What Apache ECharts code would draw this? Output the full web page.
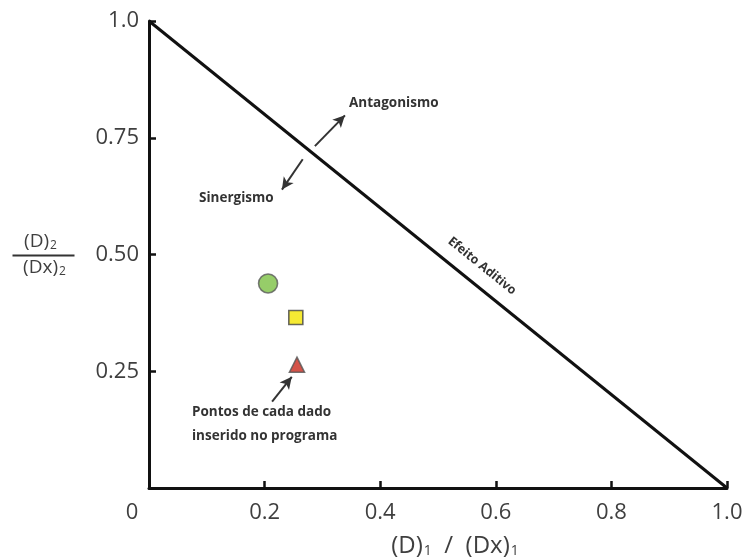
<!DOCTYPE html>
<html>
<head>
<meta charset="utf-8">
<script src="https://cdn.jsdelivr.net/npm/echarts@6/dist/echarts.min.js"></script>
<style>
    html, body { margin: 0; padding: 0; background: #fff; }
    #chart { width: 747px; height: 560px; }
</style>
</head>
<body>
<div id="chart"></div>
<script>
// tick values of both axes
var xTicks = [0, 0.2, 0.4, 0.6, 0.8, 1.0];
var yTicks = [0, 0.25, 0.5, 0.75, 1.0];
// additive effect line (isobologram)
var additiveLine = [[0, 1], [1, 0]];
// data points entered in the program
var pointNames = ['Ponto 1', 'Ponto 2', 'Ponto 3'];
var pointX = [0.206, 0.254, 0.256];
var pointY = [0.438, 0.365, 0.264];
// annotation arrows [x1, y1, x2, y2]
var arrows = [
    [0.287, 0.732, 0.339, 0.798],
    [0.266, 0.704, 0.230, 0.639],
    [0.213, 0.185, 0.247, 0.238]
];

var labelFont = '"Open Sans", "DejaVu Sans", sans-serif';
var textColor = '#3f3f3f';
var noteColor = '#333';

var pointStyles = [
    { symbol: 'circle', size: 19, color: '#7cc043', border: '#5a5a5a' },
    { symbol: 'rect', size: 14, color: '#f4e500', border: '#444' },
    { symbol: 'triangle', size: 15, color: '#c9281c', border: '#555' }
];

function buildPointSeries() {
    var list = [];
    for (var i = 0; i < pointX.length; i++) {
        var st = pointStyles[i];
        list.push({
            name: pointNames[i],
            type: 'scatter',
            symbol: st.symbol,
            symbolSize: st.size,
            itemStyle: { color: st.color, borderColor: st.border, borderWidth: 1.6 },
            data: [[pointX[i], pointY[i]]],
            z: 5
        });
    }
    return list;
}

function buildArrows() {
    var list = [];
    for (var i = 0; i < arrows.length; i++) {
        list.push([
            { coord: [arrows[i][0], arrows[i][1]] },
            { coord: [arrows[i][2], arrows[i][3]] }
        ]);
    }
    return list;
}

var subRich = {
    a: { fontSize: 24, fontFamily: labelFont, fill: textColor },
    s: { fontSize: 14, fontFamily: labelFont, fill: textColor, verticalAlign: 'bottom', padding: [11, 0, 0, 1] }
};
var fracRich = {
    a: { fontSize: 19, fontFamily: labelFont, fill: textColor },
    s: { fontSize: 12, fontFamily: labelFont, fill: textColor, verticalAlign: 'bottom', padding: [8, 0, 0, 1] }
};

var chart = echarts.init(document.getElementById('chart'));

var option = {
    animation: false,
    backgroundColor: '#fff',
    grid: {
        left: 149,
        right: 20,
        top: 21,
        bottom: 72
    },
    xAxis: {
        type: 'value',
        min: xTicks[0],
        max: xTicks[xTicks.length - 1],
        interval: 0.2,
        splitLine: { show: false },
        axisLine: { lineStyle: { color: '#111', width: 3 } },
        axisTick: { inside: true, length: 7, lineStyle: { color: '#111', width: 2.5 } },
        axisLabel: {
            margin: 14,
            fontSize: 22,
            fontFamily: labelFont,
            color: textColor,
            formatter: function (v) {
                if (v === 0) return '{z|0}';
                return v.toFixed(1);
            },
            rich: {
                z: { fontSize: 22, fontFamily: labelFont, color: textColor, padding: [0, 34, 0, 0] }
            }
        }
    },
    yAxis: {
        type: 'value',
        min: yTicks[0],
        max: yTicks[yTicks.length - 1],
        interval: 0.25,
        splitLine: { show: false },
        axisLine: { lineStyle: { color: '#111', width: 3 } },
        axisTick: { inside: true, length: 7, lineStyle: { color: '#111', width: 2.5 } },
        axisLabel: {
            margin: 10,
            fontSize: 22,
            fontFamily: labelFont,
            color: textColor,
            formatter: function (v) {
                if (v === 0) return '';
                if (v === 1) return '1.0';
                return v.toFixed(2);
            }
        }
    },
    graphic: [
        {
            // x axis title
            type: 'text',
            x: 455, y: 546,
            style: {
                text: '{a|(D)}{s|1}{a|  /  (Dx)}{s|1}',
                align: 'center',
                verticalAlign: 'middle',
                rich: subRich
            }
        },
        {
            // y axis title as a fraction
            type: 'group',
            left: 10,
            top: 232,
            children: [
                {
                    type: 'text',
                    x: 28, y: 0,
                    style: { text: '{a|(D)}{s|2}', align: 'center', rich: fracRich }
                },
                {
                    type: 'line',
                    shape: { x1: 0, y1: 24, x2: 62, y2: 24 },
                    style: { stroke: '#333', lineWidth: 2 }
                },
                {
                    type: 'text',
                    x: 32, y: 26,
                    style: { text: '{a|(Dx)}{s|2}', align: 'center', rich: fracRich }
                }
            ]
        },
        {
            type: 'text',
            left: 349, top: 96,
            style: { text: 'Antagonismo', font: 'bold 13.5px ' + labelFont, fill: noteColor }
        },
        {
            type: 'text',
            left: 199, top: 191,
            style: { text: 'Sinergismo', font: 'bold 13.5px ' + labelFont, fill: noteColor }
        },
        {
            type: 'text',
            left: 192, top: 400,
            style: {
                text: 'Pontos de cada dado\ninserido no programa',
                font: 'bold 13.5px ' + labelFont,
                lineHeight: 24,
                fill: noteColor
            }
        },
        {
            type: 'text',
            x: 482, y: 266,
            rotation: -0.68,
            style: {
                text: 'Efeito Aditivo',
                font: 'bold 12.5px ' + labelFont,
                fill: noteColor,
                align: 'center',
                verticalAlign: 'middle'
            }
        }
    ],
    series: [
        {
            name: 'Efeito Aditivo',
            type: 'line',
            data: additiveLine,
            symbol: 'none',
            lineStyle: { color: '#111', width: 3 },
            z: 3,
            markLine: {
                silent: true,
                symbol: ['none', 'arrow'],
                symbolSize: [9, 12],
                label: { show: false },
                lineStyle: { color: '#333', width: 2, type: 'solid' },
                data: buildArrows()
            }
        }
    ].concat(buildPointSeries())
};

chart.setOption(option);
</script>
</body>
</html>
